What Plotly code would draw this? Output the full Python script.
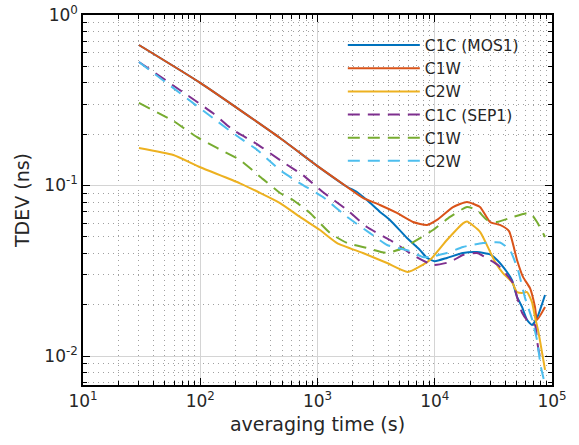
import plotly.graph_objects as go

# ---- data (averaging time in s, TDEV in ns) ----
series_names = ["C1C (MOS1)", "C1W", "C2W", "C1C (SEP1)", "C1W", "C2W"]

tau_mos_c1c = [30, 100, 479, 1000, 1800, 2170, 2640, 3410, 4150, 5800, 7490, 8590, 10000,
               12700, 17400, 22900, 29600, 34000, 41300, 45600, 50300, 55500, 61200, 67500, 74500, 87200]
tdev_mos_c1c = [0.667, 0.40, 0.19, 0.13, 0.098, 0.0916, 0.0822, 0.070, 0.0628, 0.0492,
                0.0418, 0.0376, 0.036, 0.0376, 0.0402, 0.0407, 0.0395, 0.0366, 0.0311, 0.0279, 0.0222,
                0.0194, 0.0163, 0.0152, 0.0167, 0.0228]

tau_mos_c1w = [30, 100, 479, 1000, 1790, 2440, 3410, 4760, 6530, 8590, 10450, 14310, 18840,
               24320, 29600, 35970, 43000, 50300, 56580, 64920, 71600, 74500, 87200]
tdev_mos_c1w = [0.667, 0.40, 0.19, 0.13, 0.098, 0.0845, 0.0769, 0.069, 0.0611, 0.0587,
                0.0628, 0.0748, 0.080, 0.0748, 0.0611, 0.0587, 0.054, 0.0366, 0.0291, 0.0250, 0.0194,
                0.0163, 0.0194]

tau_mos_c2w = [30, 59, 100, 218, 479, 709, 1050, 1470, 2440, 3920, 5900, 9100, 12700, 17410, 18840,
               24320, 32700, 38160, 45600, 50300, 55450, 61180, 67500, 71600, 76000, 87200]
tdev_mos_c2w = [0.166, 0.151, 0.128, 0.103, 0.0789, 0.0654, 0.0548, 0.046, 0.0402, 0.0351, 0.0311,
                0.0366, 0.0479, 0.060, 0.0615, 0.0535, 0.0356, 0.0306, 0.0271, 0.0237, 0.0234, 0.0237,
                0.0207, 0.0169, 0.0142, 0.0083]

tau_sep_c1c = [30, 128, 190, 305, 508, 752, 1110, 1790, 2640, 4150, 6530, 9660, 13490, 17410, 22920,
               29600, 34600, 46500, 50300, 55450, 62400, 71600, 74500, 79000, 90700]
tdev_sep_c1c = [0.53, 0.266, 0.212, 0.175, 0.137, 0.115, 0.0916, 0.0718, 0.0571, 0.0479, 0.0391, 0.0342,
                0.0356, 0.0391, 0.0402, 0.0366, 0.0342, 0.0268, 0.0222, 0.018, 0.016, 0.0152, 0.0124,
                0.0101, 0.0099]

tau_sep_c1w = [30, 59, 94, 139, 218, 343, 479, 618, 863, 1280, 1790, 2640, 3920, 5360, 7490, 9660,
               13490, 18840, 22920, 27900, 33960, 46500, 64920, 74500, 87200]
tdev_sep_c1w = [0.305, 0.239, 0.192, 0.166, 0.141, 0.109, 0.0904, 0.0822, 0.069, 0.0526, 0.046, 0.043,
                0.0402, 0.043, 0.0492, 0.0548, 0.0654, 0.0748, 0.0718, 0.0628, 0.0611, 0.0654, 0.069,
                0.0611, 0.0499]

tau_sep_c2w = [30, 206, 305, 479, 709, 1110, 1790, 2800, 3920, 5800, 7940, 9100, 12700, 17410, 25800,
               36000, 43800, 51300, 58800, 67500, 74500, 80000, 88000]
tdev_sep_c2w = [0.53, 0.195, 0.162, 0.123, 0.103, 0.0857, 0.0654, 0.0526, 0.0448, 0.0418, 0.0381, 0.0381,
                0.0402, 0.0436, 0.046, 0.0463, 0.0418, 0.0319, 0.022, 0.0165, 0.0124, 0.0088, 0.0066]

x_tick_vals = [10, 100, 1000, 10000, 100000]
x_tick_text = ["10<sup>1</sup>", "10<sup>2</sup>", "10<sup>3</sup>", "10<sup>4</sup>", "10<sup>5</sup>"]
y_tick_vals = [0.01, 0.1, 1]
y_tick_text = ["10<sup>-2</sup>", "10<sup>-1</sup>", "10<sup>0</sup>"]

colors = ["#0072BD", "#D95319", "#EDB120", "#7E2F8E", "#77AC30", "#4DBEEE"]
dashes = ["solid", "solid", "solid", "12px,8px", "12px,8px", "12px,8px"]

xs = [tau_mos_c1c, tau_mos_c1w, tau_mos_c2w, tau_sep_c1c, tau_sep_c1w, tau_sep_c2w]
ys = [tdev_mos_c1c, tdev_mos_c1w, tdev_mos_c2w, tdev_sep_c1c, tdev_sep_c1w, tdev_sep_c2w]

fig = go.Figure()
for name, x, y, c, d in zip(series_names, xs, ys, colors, dashes):
    fig.add_trace(go.Scatter(x=x, y=y, mode="lines", name=name,
                             line=dict(color=c, width=2, dash=d, shape="spline", smoothing=0.5)))

font = "DejaVu Sans"
axis_common = dict(
    type="log", automargin=False, ticklabeloverflow="allow",
    showline=True, linecolor="black", linewidth=1.5, mirror="ticks",
    ticks="inside", ticklen=7, tickwidth=1.2, tickcolor="black",
    showgrid=True, gridcolor="#d4d4d4", gridwidth=1.3,
    zeroline=False,
    tickfont=dict(family=font, size=17, color="#262626"),
    minor=dict(ticks="inside", ticklen=4, tickcolor="black", tickwidth=1,
               showgrid=True, gridcolor="#a0a0a0", griddash="1px,4px", gridwidth=1, dtick="D1"),
)

fig.update_layout(
    width=579, height=445,
    margin=dict(l=83, r=27, t=15, b=60),
    paper_bgcolor="white", plot_bgcolor="white",
    xaxis=dict(range=[1, 5], tickmode="array", tickvals=x_tick_vals, ticktext=x_tick_text,
               title=dict(text="averaging time (s)", font=dict(family=font, size=19, color="#262626"),
                          standoff=8),
               **axis_common),
    yaxis=dict(range=[-2.17, 0], tickmode="array", tickvals=y_tick_vals, ticktext=y_tick_text,
               title=dict(text="TDEV (ns)", font=dict(family=font, size=19, color="#262626"),
                          standoff=10),
               **axis_common),
    legend=dict(x=0.554, y=0.9635, xanchor="left", yanchor="top",
                bgcolor="rgba(0,0,0,0)", borderwidth=0,
                font=dict(family=font, size=15.5, color="#262626"),
                itemwidth=72, tracegroupgap=0),
    showlegend=True,
)

# remove the default page margin so the figure fills the window exactly
fig.write_html("out.html", config={"displayModeBar": False},
               post_script="document.body.style.margin='0';")
